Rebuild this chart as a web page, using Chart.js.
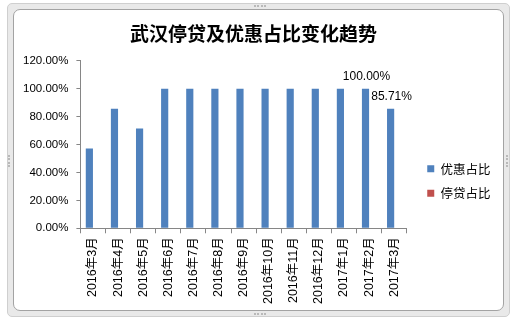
<!DOCTYPE html>
<html>
<head>
<meta charset="utf-8">
<script src="https://cdn.jsdelivr.net/npm/chart.js@4/dist/chart.umd.min.js"></script>
<style>
  html, body { margin: 0; padding: 0; background: #fff; }
  .frame {
    position: absolute; left: 7px; top: 3px; width: 501px; height: 312px;
    background: #e9e9e9; border: 1px solid #cfcfcf; border-radius: 5px;
  }
  .box {
    position: absolute; left: 13px; top: 9px; width: 489px; height: 300px;
    background: #fff; border: 1px solid #a3a3a3; border-radius: 7px;
  }
  .wrap { position: absolute; left: 14px; top: 10px; width: 489px; height: 300px; }
  .grip { position: absolute; border-color: #b9b9b9; border-style: dotted; border-width: 0; }
</style>
</head>
<body>
<div class="frame"></div>
<div class="grip" style="left:254px;top:5px;width:12px;border-top-width:2px;"></div>
<div class="grip" style="left:254px;top:313px;width:12px;border-top-width:2px;"></div>
<div class="grip" style="left:8px;top:155px;height:12px;border-left-width:2px;"></div>
<div class="grip" style="left:506px;top:155px;height:12px;border-left-width:2px;"></div>
<div class="box"></div>
<div class="wrap"><canvas id="trend"></canvas></div>
<script>
const months = ['2016年3月', '2016年4月', '2016年5月', '2016年6月', '2016年7月', '2016年8月', '2016年9月',
  '2016年10月', '2016年11月', '2016年12月', '2017年1月', '2017年2月', '2017年3月'];
const discountShare = [57.14, 85.71, 71.43, 100, 100, 100, 100, 100, 100, 100, 100, 100, 85.71];
const suspendShare = [0, 0, 0, 0, 0, 0, 0, 0, 0, 0, 0, 0, 0];
const labelled = [11, 12];

const axisGray = '#868686';
const legendGap = 8.5; // extra room between plot and legend

// value labels above the chosen bars
const barLabels = {
  id: 'barLabels',
  afterDatasetsDraw(chart) {
    const ctx = chart.ctx;
    const bars = chart.getDatasetMeta(0).data;
    ctx.save();
    ctx.font = '12px "Liberation Sans", Arial, sans-serif';
    ctx.fillStyle = '#000';
    ctx.textAlign = 'center';
    ctx.textBaseline = 'bottom';
    labelled.forEach(i => {
      const bar = bars[i];
      ctx.fillText(discountShare[i].toFixed(2) + '%', bar.x + 1, bar.y - 6);
    });
    ctx.restore();
  }
};

// widen the legend box, then slide it back so only the gap grows
const legendSpacing = {
  id: 'legendSpacing',
  afterInit(chart) {
    chart.legend.afterFit = function () { this.width += legendGap; };
  },
  afterLayout(chart) {
    chart.legend.left += legendGap;
    chart.legend.right += legendGap;
  }
};

const chart = new Chart(document.getElementById('trend'), {
  type: 'bar',
  data: {
    labels: months,
    datasets: [{
      label: '优惠占比',
      data: discountShare,
      backgroundColor: '#4F81BD'
    }, {
      label: '停贷占比',
      data: suspendShare,
      backgroundColor: '#C0504D'
    }]
  },
  options: {
    responsive: true,
    maintainAspectRatio: false,
    animation: false,
    categoryPercentage: 2 / 3.5,
    barPercentage: 1,
    layout: { padding: { left: 1, right: 11, bottom: 2 } },
    plugins: {
      title: {
        display: true,
        text: '武汉停贷及优惠占比变化趋势',
        color: '#000',
        font: { family: '"Noto Sans CJK SC"', size: 19, weight: 'bold' },
        padding: { top: 12, bottom: 16 }
      },
      legend: {
        position: 'right',
        title: {
          display: true,
          text: ' ',
          font: { size: 10 },
          padding: { top: 0, bottom: 32 }
        },
        labels: {
          boxWidth: 7,
          boxHeight: 7,
          padding: 12,
          color: '#000',
          font: { family: '"Noto Sans CJK SC"', size: 12.5 }
        }
      },
      tooltip: { enabled: false }
    },
    scales: {
      x: {
        grid: { drawOnChartArea: false, color: axisGray, tickLength: 5 },
        border: { color: axisGray },
        ticks: {
          autoSkip: false,
          minRotation: 90,
          maxRotation: 90,
          padding: 4,
          color: '#000',
          font: { family: '"Liberation Sans", "Noto Sans CJK SC"', size: 12.5 }
        }
      },
      y: {
        min: 0,
        max: 120,
        grid: { drawOnChartArea: false, color: axisGray, tickLength: 4 },
        border: { color: axisGray },
        ticks: {
          stepSize: 20,
          padding: 8,
          color: '#000',
          font: { family: '"Liberation Sans", Arial, sans-serif', size: 11.5 },
          callback: v => v.toFixed(2) + '%'
        }
      }
    }
  },
  plugins: [barLabels, legendSpacing]
});
</script>
</body>
</html>
